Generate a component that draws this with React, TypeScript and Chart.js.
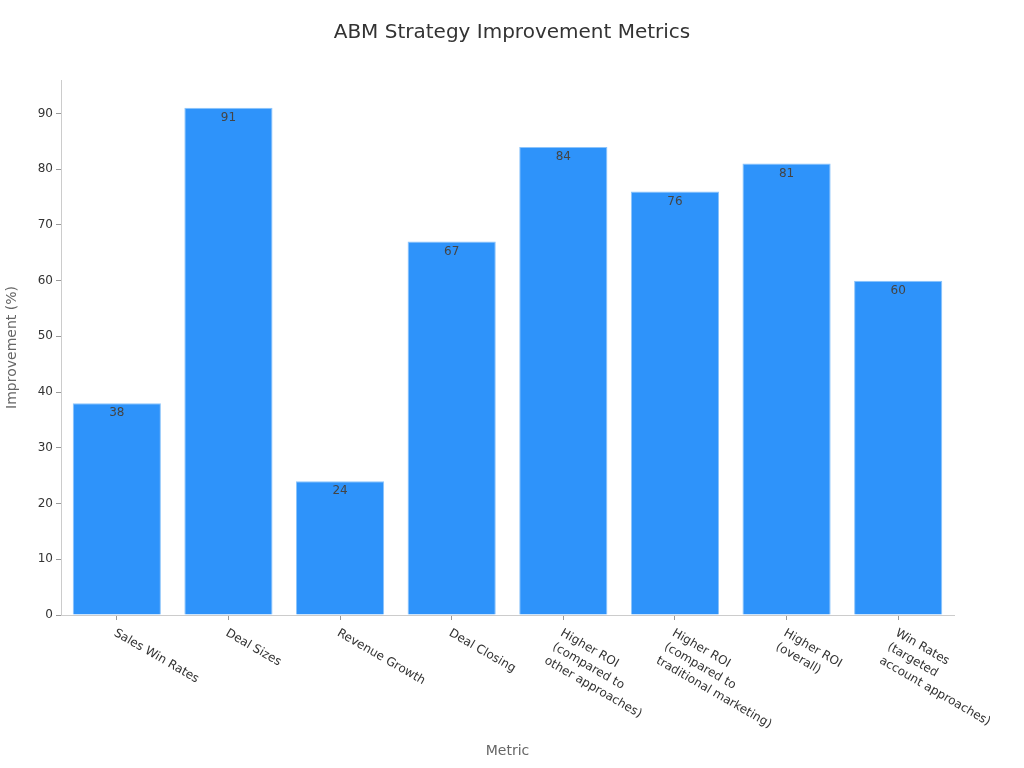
import React, { useEffect, useRef } from "react";
import { Chart, registerables } from "chart.js";

Chart.register(...registerables);

const chartTitle = "ABM Strategy Improvement Metrics";
const xAxisTitle = "Metric";
const yAxisTitle = "Improvement (%)";

const categories: string[][] = [
  ["Sales Win Rates"],
  ["Deal Sizes"],
  ["Revenue Growth"],
  ["Deal Closing"],
  ["Higher ROI", "(compared to", "other approaches)"],
  ["Higher ROI", "(compared to", "traditional marketing)"],
  ["Higher ROI", "(overall)"],
  ["Win Rates", "(targeted", "account approaches)"],
];
const improvement = [38, 91, 24, 67, 84, 76, 81, 60];
const yTickValues = [0, 10, 20, 30, 40, 50, 60, 70, 80, 90];
const yMax = 96;

const FONT = "'DejaVu Sans', Verdana, sans-serif";

const drawPlugin = {
  id: "customDraw",
  afterDraw(chart: any) {
    const ctx = chart.ctx as CanvasRenderingContext2D;
    const xScale = chart.scales.x;
    ctx.save();
    // title
    ctx.fillStyle = "#333333";
    ctx.font = `20px ${FONT}`;
    ctx.textAlign = "center";
    ctx.textBaseline = "middle";
    ctx.fillText(chartTitle, chart.width / 2, 33);

    // x labels rotated clockwise
    ctx.font = `12px ${FONT}`;
    ctx.fillStyle = "#333333";
    ctx.textAlign = "left";
    ctx.textBaseline = "top";
    categories.forEach((lines, i) => {
      const x = xScale.getPixelForTick(i);
      const y = xScale.top + 12;
      ctx.save();
      ctx.translate(x + 1, y);
      ctx.rotate(Math.PI / 6);
      lines.forEach((ln, j) => ctx.fillText(ln, 0, j * 16));
      ctx.restore();
    });

    // data labels
    const meta = chart.getDatasetMeta(0);
    ctx.font = `12px ${FONT}`;
    ctx.fillStyle = "#444444";
    ctx.textAlign = "center";
    ctx.textBaseline = "top";
    meta.data.forEach((bar: any, i: number) => {
      ctx.fillText(String(improvement[i]), bar.x, bar.y + 4);
    });
    ctx.restore();
  },
};

export default function App() {
  const ref = useRef<HTMLCanvasElement | null>(null);
  useEffect(() => {
    if (!ref.current) return;
    const chart = new Chart(ref.current, {
      type: "bar",
      data: {
        labels: categories.map((c) => c.join(" ")),
        datasets: [
          {
            data: improvement,
            backgroundColor: "#2E93FA",
            borderColor: "#8CC4FB",
            borderWidth: 1,
            barPercentage: 0.79,
            categoryPercentage: 1,
          },
        ],
      },
      options: {
        responsive: false,
        animation: false,
        layout: { padding: { top: 80, right: 70, left: 0, bottom: 0 } },
        plugins: {
          legend: { display: false },
          tooltip: { enabled: false },
          title: { display: false },
        },
        scales: {
          x: {
            afterFit: (s: any) => {
              s.height = 153;
            },
            grid: {
              display: true,
              offset: false,
              drawOnChartArea: false,
              drawTicks: true,
              tickLength: 5,
              color: "#999999",
            },
            border: { display: true, color: "#cccccc" },
            ticks: { display: false },
            title: {
              display: true,
              text: xAxisTitle,
              color: "#666666",
              font: { family: FONT, size: 14 },
              padding: { top: 4, bottom: 8 },
            },
          },
          y: {
            min: 0,
            max: yMax,
            afterFit: (s: any) => {
              s.width = 61;
            },
            afterBuildTicks: (s: any) => {
              s.ticks = yTickValues.map((v) => ({ value: v }));
            },
            grid: {
              display: true,
              drawOnChartArea: false,
              drawTicks: true,
              tickLength: 5,
              color: "#999999",
            },
            border: { display: true, color: "#cccccc" },
            ticks: {
              color: "#333333",
              font: { family: FONT, size: 12 },
              padding: 3,
            },
            title: {
              display: true,
              text: yAxisTitle,
              color: "#666666",
              font: { family: FONT, size: 14 },
              padding: 4,
            },
          },
        },
      },
      plugins: [drawPlugin],
    });
    return () => chart.destroy();
  }, []);
  return (
    <div style={{ position: "fixed", left: 0, top: 0, width: 1024, height: 768, background: "#fff" }}>
      <canvas ref={ref} width={1024} height={768} />
    </div>
  );
}
